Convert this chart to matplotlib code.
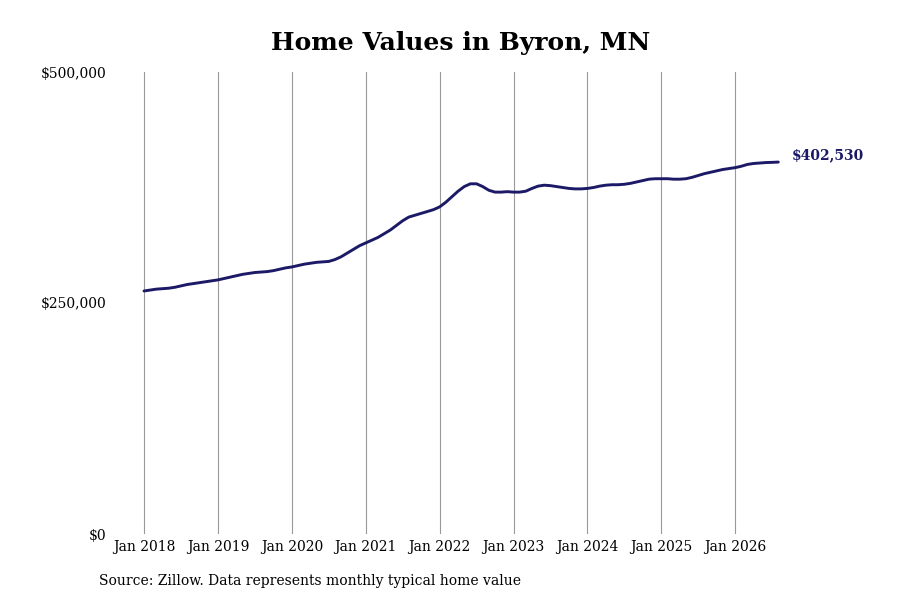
import numpy as np
import matplotlib.pyplot as plt

plt.rcParams['font.family'] = ['DejaVu Serif']

# monthly typical home value, Jan 2018 .. Aug 2026
values = [
    263000, 264000, 265000, 265500, 266000, 267000, 268500, 270000, 271000, 272000, 273000, 274000,  # 2018
    275000, 276500, 278000, 279500, 281000, 282000, 283000, 283500, 284000, 285000, 286500, 288000,  # 2019
    289000, 290500, 292000, 293000, 294000, 294500, 295000, 297000, 300000, 304000, 308000, 312000,  # 2020
    315000, 318000, 321000, 325000, 329000, 334000, 339000, 343000, 345000, 347000, 349000, 351000,  # 2021
    354000, 359000, 365000, 371000, 376000, 379000, 379000, 376000, 372000, 370000, 370000, 370500,  # 2022
    370000, 370000, 371000, 374000, 376500, 377500, 377000, 376000, 375000, 374000, 373500, 373500,  # 2023
    374000, 375000, 376500, 377500, 378000, 378000, 378500, 379500, 381000, 382500, 384000, 384500,  # 2024
    384500, 384500, 384000, 384000, 384500, 386000, 388000, 390000, 391500, 393000, 394500, 395500,  # 2025
    396500, 398000, 400000, 401000, 401500, 402000, 402200, 402530,                                  # 2026
]
start_year = 2018
tick_years = list(range(2018, 2027))
tick_labels = ['Jan %d' % y for y in tick_years]
y_ticks = [0, 250000, 500000]
y_labels = ['$0', '$250,000', '$500,000']
last_label = '$402,530'

x = start_year + np.arange(len(values)) / 12.0

fig = plt.figure(figsize=(9, 6), dpi=100)
ax = fig.add_axes([120 / 900, 66 / 600, 680 / 900, 462 / 600])

line_color = '#1c1a66'
ax.plot(x, values, color=line_color, linewidth=2.1, solid_capstyle='round')
ax.text(x[-1] + 0.18, values[-1], last_label, color=line_color, fontsize=10,
        fontweight='bold', va='bottom', ha='left')

ax.set_xlim(2018 - 24 / 73.9, 2018 + 680 / 73.9 - 24 / 73.9)
ax.set_ylim(0, 500000)
ax.set_xticks(tick_years)
ax.set_xticklabels(tick_labels, fontsize=10)
ax.set_yticks(y_ticks)
ax.set_yticklabels(y_labels, fontsize=10)
ax.tick_params(axis='both', length=0)
ax.tick_params(axis='x', pad=4)
ax.tick_params(axis='y', pad=10)
ax.grid(axis='x', color='#999999', linewidth=0.8)
ax.set_axisbelow(True)
for s in ax.spines.values():
    s.set_visible(False)

fig.text(461 / 900, 1 - 43 / 600, 'Home Values in Byron, MN', ha='center', va='center',
         fontsize=18, fontweight='bold')
fig.text(99 / 900, 1 - 581 / 600, 'Source: Zillow. Data represents monthly typical home value',
         ha='left', va='center', fontsize=10)

fig.savefig('out.png', dpi=100)
